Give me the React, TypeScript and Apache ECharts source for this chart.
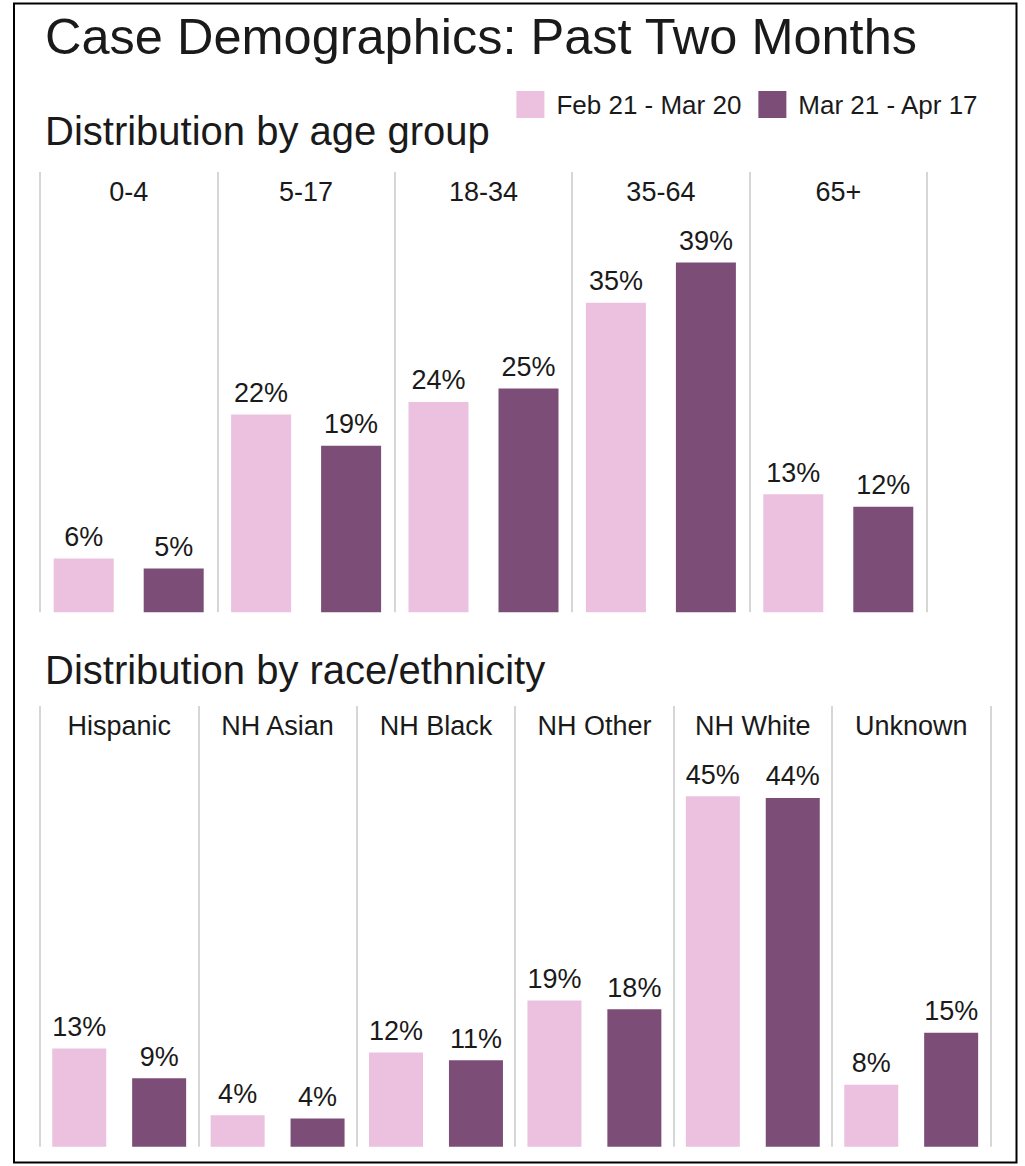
import React, { useEffect, useRef } from "react";
import * as echarts from "echarts";

const FONT = '"Liberation Sans", Arial, sans-serif';
const TEXT = "#1a1a1a";
const PINK = "#EBC1DF";
const PURPLE = "#7C4D76";
const GRIDLINE = "#d6d6d6";

const seriesNames = ["Feb 21 - Mar 20", "Mar 21 - Apr 17"];

const ageGroups = ["0-4", "5-17", "18-34", "35-64", "65+"];
const agePeriod1 = [6.0, 22.1, 23.5, 34.6, 13.2];
const agePeriod2 = [4.9, 18.6, 25.0, 39.1, 11.8];

const raceGroups = ["Hispanic", "NH Asian", "NH Black", "NH Other", "NH White", "Unknown"];
const racePeriod1 = [12.5, 4.0, 12.0, 18.6, 44.6, 7.9];
const racePeriod2 = [8.7, 3.6, 11.0, 17.5, 44.4, 14.5];

const titleText = "Case Demographics: Past Two Months";
const ageTitle = "Distribution by age group";
const raceTitle = "Distribution by race/ethnicity";

export default function App() {
  const ref = useRef<HTMLDivElement>(null);

  useEffect(() => {
    if (!ref.current) return;
    const chart = echarts.init(ref.current, undefined, { renderer: "svg" });

    const valueLabel = {
      show: true,
      position: "top",
      distance: 8,
      fontFamily: FONT,
      fontSize: 27,
      color: TEXT,
      formatter: (p: any) => Math.round(p.value) + "%",
    };

    const catAxis = (gridIndex: number, data: string[]) => ({
      type: "category",
      gridIndex,
      data,
      position: "top",
      axisLine: { show: false },
      axisTick: { show: false },
      axisLabel: {
        inside: true,
        margin: 6,
        fontFamily: FONT,
        fontSize: 27,
        color: TEXT,
        interval: 0,
      },
      splitLine: { show: true, interval: 0, lineStyle: { color: GRIDLINE, width: 2 } },
    });

    const option: any = {
      animation: false,
      backgroundColor: "#ffffff",
      textStyle: { fontFamily: FONT },
      legend: {
        data: seriesNames,
        right: 41,
        top: 86,
        icon: "rect",
        itemWidth: 28,
        itemHeight: 27,
        itemGap: 17,
        textStyle: { fontFamily: FONT, fontSize: 26, color: TEXT, padding: [0, 0, 0, 7] },
      },
      graphic: [
        {
          type: "rect",
          shape: { x: 14, y: 3.5, width: 1002.5, height: 1159 },
          style: { fill: "none", stroke: "#000", lineWidth: 2 },
          silent: true,
        },
        {
          type: "text",
          x: 45,
          y: 36,
          style: { text: titleText, font: `50.5px ${FONT}`, fill: TEXT, textAlign: "left", textVerticalAlign: "middle", align: "left", verticalAlign: "middle" },
        },
        {
          type: "text",
          x: 45,
          y: 131,
          style: { text: ageTitle, font: `40px ${FONT}`, fill: TEXT, textAlign: "left", textVerticalAlign: "middle", align: "left", verticalAlign: "middle" },
        },
        {
          type: "text",
          x: 45,
          y: 670,
          style: { text: raceTitle, font: `40px ${FONT}`, fill: TEXT, textAlign: "left", textVerticalAlign: "middle", align: "left", verticalAlign: "middle" },
        },
      ],
      grid: [
        { left: 40, top: 172, width: 887, height: 440.3 },
        { left: 40, top: 706, width: 950.4, height: 440.7 },
      ],
      xAxis: [catAxis(0, ageGroups), catAxis(1, raceGroups)],
      yAxis: [
        { type: "value", gridIndex: 0, min: 0, max: 49.2, show: false, splitLine: { show: false } },
        { type: "value", gridIndex: 1, min: 0, max: 56.1, show: false, splitLine: { show: false } },
      ],
      series: [
        {
          name: seriesNames[0], type: "bar", xAxisIndex: 0, yAxisIndex: 0, data: agePeriod1,
          barWidth: 60, barGap: "50%", itemStyle: { color: PINK }, label: valueLabel,
        },
        {
          name: seriesNames[1], type: "bar", xAxisIndex: 0, yAxisIndex: 0, data: agePeriod2,
          barWidth: 60, barGap: "50%", itemStyle: { color: PURPLE }, label: valueLabel,
        },
        {
          name: seriesNames[0], type: "bar", xAxisIndex: 1, yAxisIndex: 1, data: racePeriod1,
          barWidth: 54, barGap: "48%", itemStyle: { color: PINK }, label: valueLabel,
        },
        {
          name: seriesNames[1], type: "bar", xAxisIndex: 1, yAxisIndex: 1, data: racePeriod2,
          barWidth: 54, barGap: "48%", itemStyle: { color: PURPLE }, label: valueLabel,
        },
      ],
    };

    chart.setOption(option);
    return () => chart.dispose();
  }, []);

  return (
    <div
      ref={ref}
      style={{ position: "absolute", left: 0, top: 0, width: 1025, height: 1166, background: "#fff" }}
    />
  );
}
